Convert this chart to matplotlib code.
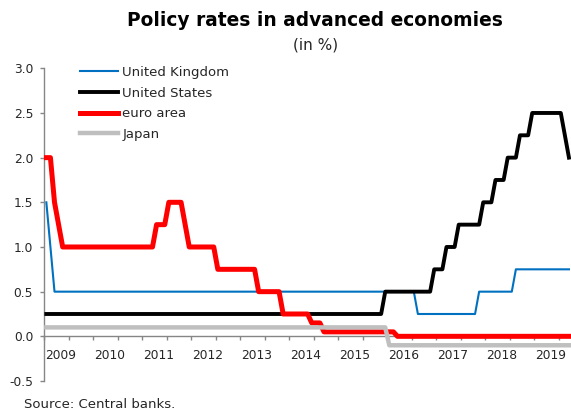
import matplotlib
matplotlib.use('Agg')
import matplotlib.pyplot as plt
import numpy as np

# Monthly policy rates, Jan 2009 - Sep 2019 (one row per year)
united_kingdom = [
    1.5, 1.0, 0.5, 0.5, 0.5, 0.5, 0.5, 0.5, 0.5, 0.5, 0.5, 0.5,   # 2009
    0.5, 0.5, 0.5, 0.5, 0.5, 0.5, 0.5, 0.5, 0.5, 0.5, 0.5, 0.5,   # 2010
    0.5, 0.5, 0.5, 0.5, 0.5, 0.5, 0.5, 0.5, 0.5, 0.5, 0.5, 0.5,   # 2011
    0.5, 0.5, 0.5, 0.5, 0.5, 0.5, 0.5, 0.5, 0.5, 0.5, 0.5, 0.5,   # 2012
    0.5, 0.5, 0.5, 0.5, 0.5, 0.5, 0.5, 0.5, 0.5, 0.5, 0.5, 0.5,   # 2013
    0.5, 0.5, 0.5, 0.5, 0.5, 0.5, 0.5, 0.5, 0.5, 0.5, 0.5, 0.5,   # 2014
    0.5, 0.5, 0.5, 0.5, 0.5, 0.5, 0.5, 0.5, 0.5, 0.5, 0.5, 0.5,   # 2015
    0.5, 0.5, 0.5, 0.5, 0.5, 0.5, 0.5, 0.25, 0.25, 0.25, 0.25, 0.25,   # 2016
    0.25, 0.25, 0.25, 0.25, 0.25, 0.25, 0.25, 0.25, 0.25, 0.25, 0.5, 0.5,  # 2017
    0.5, 0.5, 0.5, 0.5, 0.5, 0.5, 0.5, 0.75, 0.75, 0.75, 0.75, 0.75,  # 2018
    0.75, 0.75, 0.75, 0.75, 0.75, 0.75, 0.75, 0.75, 0.75,             # 2019
]
united_states = [
    0.25, 0.25, 0.25, 0.25, 0.25, 0.25, 0.25, 0.25, 0.25, 0.25, 0.25, 0.25,  # 2009
    0.25, 0.25, 0.25, 0.25, 0.25, 0.25, 0.25, 0.25, 0.25, 0.25, 0.25, 0.25,  # 2010
    0.25, 0.25, 0.25, 0.25, 0.25, 0.25, 0.25, 0.25, 0.25, 0.25, 0.25, 0.25,  # 2011
    0.25, 0.25, 0.25, 0.25, 0.25, 0.25, 0.25, 0.25, 0.25, 0.25, 0.25, 0.25,  # 2012
    0.25, 0.25, 0.25, 0.25, 0.25, 0.25, 0.25, 0.25, 0.25, 0.25, 0.25, 0.25,  # 2013
    0.25, 0.25, 0.25, 0.25, 0.25, 0.25, 0.25, 0.25, 0.25, 0.25, 0.25, 0.25,  # 2014
    0.25, 0.25, 0.25, 0.25, 0.25, 0.25, 0.25, 0.25, 0.25, 0.25, 0.25, 0.5,   # 2015
    0.5, 0.5, 0.5, 0.5, 0.5, 0.5, 0.5, 0.5, 0.5, 0.5, 0.5, 0.75,             # 2016
    0.75, 0.75, 1.0, 1.0, 1.0, 1.25, 1.25, 1.25, 1.25, 1.25, 1.25, 1.5,      # 2017
    1.5, 1.5, 1.75, 1.75, 1.75, 2.0, 2.0, 2.0, 2.25, 2.25, 2.25, 2.5,        # 2018
    2.5, 2.5, 2.5, 2.5, 2.5, 2.5, 2.5, 2.25, 2.0,                            # 2019
]
euro_area = [
    2.0, 2.0, 1.5, 1.25, 1.0, 1.0, 1.0, 1.0, 1.0, 1.0, 1.0, 1.0,             # 2009
    1.0, 1.0, 1.0, 1.0, 1.0, 1.0, 1.0, 1.0, 1.0, 1.0, 1.0, 1.0,              # 2010
    1.0, 1.0, 1.0, 1.25, 1.25, 1.25, 1.5, 1.5, 1.5, 1.5, 1.25, 1.0,          # 2011
    1.0, 1.0, 1.0, 1.0, 1.0, 1.0, 0.75, 0.75, 0.75, 0.75, 0.75, 0.75,        # 2012
    0.75, 0.75, 0.75, 0.75, 0.5, 0.5, 0.5, 0.5, 0.5, 0.5, 0.25, 0.25,        # 2013
    0.25, 0.25, 0.25, 0.25, 0.25, 0.15, 0.15, 0.15, 0.05, 0.05, 0.05, 0.05,  # 2014
    0.05, 0.05, 0.05, 0.05, 0.05, 0.05, 0.05, 0.05, 0.05, 0.05, 0.05, 0.05,  # 2015
    0.05, 0.05, 0.0, 0.0, 0.0, 0.0, 0.0, 0.0, 0.0, 0.0, 0.0, 0.0,            # 2016
    0.0, 0.0, 0.0, 0.0, 0.0, 0.0, 0.0, 0.0, 0.0, 0.0, 0.0, 0.0,              # 2017
    0.0, 0.0, 0.0, 0.0, 0.0, 0.0, 0.0, 0.0, 0.0, 0.0, 0.0, 0.0,              # 2018
    0.0, 0.0, 0.0, 0.0, 0.0, 0.0, 0.0, 0.0, 0.0,                             # 2019
]
japan = [
    0.1, 0.1, 0.1, 0.1, 0.1, 0.1, 0.1, 0.1, 0.1, 0.1, 0.1, 0.1,              # 2009
    0.1, 0.1, 0.1, 0.1, 0.1, 0.1, 0.1, 0.1, 0.1, 0.1, 0.1, 0.1,              # 2010
    0.1, 0.1, 0.1, 0.1, 0.1, 0.1, 0.1, 0.1, 0.1, 0.1, 0.1, 0.1,              # 2011
    0.1, 0.1, 0.1, 0.1, 0.1, 0.1, 0.1, 0.1, 0.1, 0.1, 0.1, 0.1,              # 2012
    0.1, 0.1, 0.1, 0.1, 0.1, 0.1, 0.1, 0.1, 0.1, 0.1, 0.1, 0.1,              # 2013
    0.1, 0.1, 0.1, 0.1, 0.1, 0.1, 0.1, 0.1, 0.1, 0.1, 0.1, 0.1,              # 2014
    0.1, 0.1, 0.1, 0.1, 0.1, 0.1, 0.1, 0.1, 0.1, 0.1, 0.1, 0.1,              # 2015
    -0.1, -0.1, -0.1, -0.1, -0.1, -0.1, -0.1, -0.1, -0.1, -0.1, -0.1, -0.1,  # 2016
    -0.1, -0.1, -0.1, -0.1, -0.1, -0.1, -0.1, -0.1, -0.1, -0.1, -0.1, -0.1,  # 2017
    -0.1, -0.1, -0.1, -0.1, -0.1, -0.1, -0.1, -0.1, -0.1, -0.1, -0.1, -0.1,  # 2018
    -0.1, -0.1, -0.1, -0.1, -0.1, -0.1, -0.1, -0.1, -0.1,                    # 2019
]
year_labels = ['2009', '2010', '2011', '2012', '2013', '2014', '2015',
               '2016', '2017', '2018', '2019']
y_ticks = [-0.5, 0.0, 0.5, 1.0, 1.5, 2.0, 2.5, 3.0]

W, H = 571, 412
fig = plt.figure(figsize=(W / 100, H / 100), dpi=100)
ax_l, ax_r, ax_t, ax_b = 44.3, 571.0, 68.3, 381.0
ax = fig.add_axes([ax_l / W, 1 - ax_b / H, (ax_r - ax_l) / W, (ax_b - ax_t) / H])

n = len(united_kingdom)
x = np.arange(n)
ax.plot(x, united_kingdom, color='#0070C0', lw=1.5, label='United Kingdom', zorder=3)
ax.plot(x, united_states, color='#000000', lw=2.8, label='United States', zorder=3)
ax.plot(x, euro_area, color='#FF0000', lw=3.6, label='euro area', zorder=3)
ax.plot(x, japan, color='#BFBFBF', lw=3.2, label='Japan', zorder=3)

ax.set_xlim(-0.5, n - 0.5)
ax.set_ylim(-0.5, 3.0)

for s in ['top', 'right']:
    ax.spines[s].set_visible(False)
ax.spines['bottom'].set_position(('data', 0))
for s in ['left', 'bottom']:
    ax.spines[s].set_color('#868686')
    ax.spines[s].set_linewidth(1.0)

ax.set_xticks(np.arange(-0.5, n, 6))
ax.set_xticklabels([])
ax.set_xticks([3.5 + 12 * i for i in range(len(year_labels))], minor=True)
ax.set_xticklabels(year_labels, minor=True)
ax.tick_params(axis='x', which='major', direction='out', length=3, width=1.0, color='#868686')
ax.tick_params(axis='x', which='minor', length=0, pad=9, labelsize=8.8, labelcolor='#262626')

ax.set_yticks(y_ticks)
ax.set_yticklabels([f'{v:.1f}' for v in y_ticks])
ax.tick_params(axis='y', direction='out', length=3, width=1.0, color='#868686',
               pad=5, labelsize=8.8, labelcolor='#262626')

leg = ax.legend(loc='upper left', bbox_to_anchor=(80 / W, 1 - 66 / H),
                bbox_transform=fig.transFigure, frameon=False, fontsize=9.5,
                handlelength=2.9, handletextpad=0.3, labelspacing=0.58,
                borderpad=0, borderaxespad=0)
for t in leg.get_texts():
    t.set_color('#262626')

fig.text(315 / W, 1 - 20 / H, 'Policy rates in advanced economies', ha='center',
         va='center', fontsize=13.4, fontweight='bold', color='black')
fig.text(316 / W, 1 - 45 / H, '(in %)', ha='center', va='center', fontsize=11,
         color='#262626')
fig.text(24 / W, 1 - 405 / H, 'Source: Central banks.', ha='left', va='center',
         fontsize=9.5, color='#262626')

fig.savefig('out.png', dpi=100)
